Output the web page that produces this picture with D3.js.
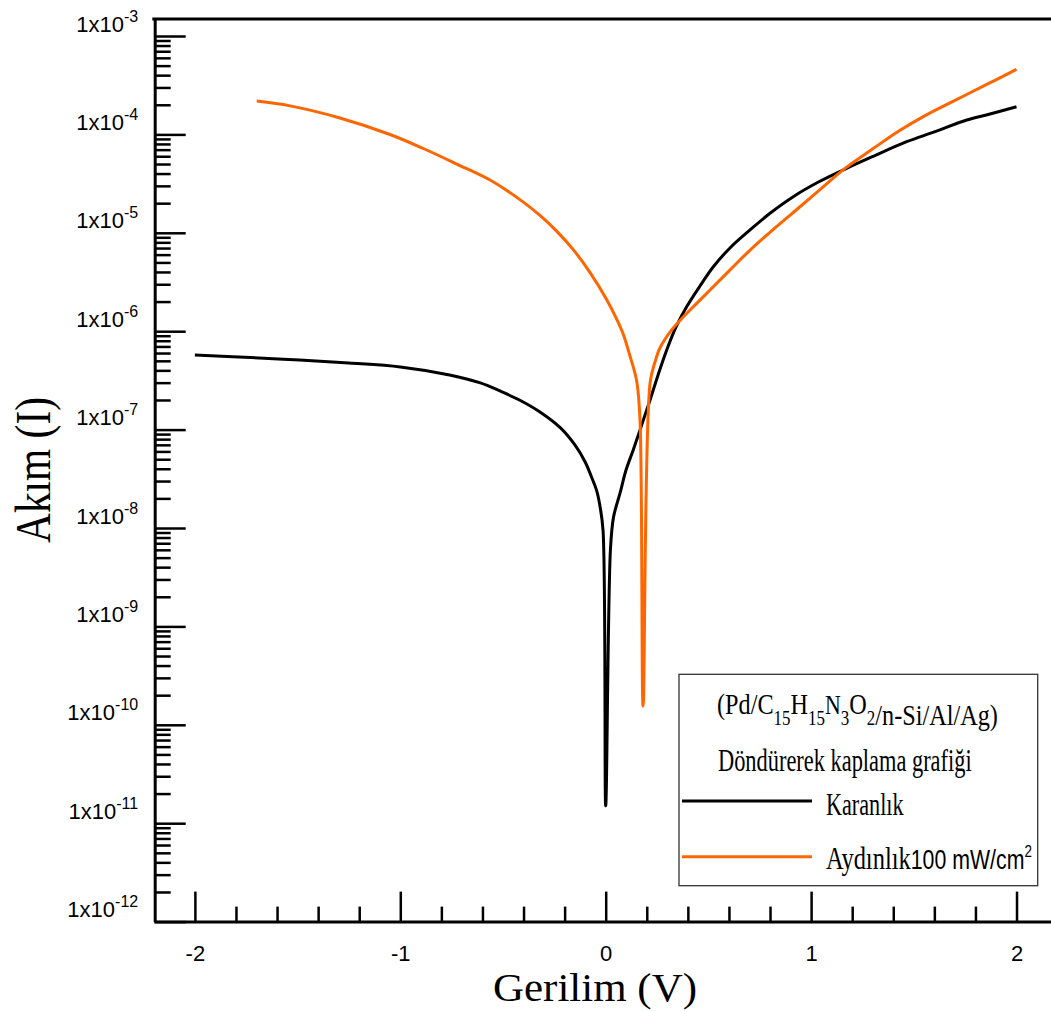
<!DOCTYPE html>
<html>
<head>
<meta charset="utf-8">
<script src="https://cdn.jsdelivr.net/npm/d3@7"></script>
<style>
  body { margin: 0; background: #fff; }
  svg { display: block; }
</style>
</head>
<body>
<svg id="chart" width="1051" height="1012"></svg>
<script>
// I–V data of the Pd/C15H15N3O2/n-Si/Al/Ag diode (spin coated)
// Dark measurement: voltage (V) and current (A)
const voltageDark = [-2.00, -1.73, -1.49, -1.25, -1.00, -0.76, -0.61, -0.515, -0.42, -0.32,
  -0.22, -0.15, -0.10, -0.067, -0.042, -0.028, -0.013, 0.00, 0.023, 0.038, 0.070, 0.099,
  0.134, 0.175, 0.216, 0.255, 0.297, 0.342, 0.394, 0.459, 0.524, 0.605, 0.703, 0.800, 0.913,
  1.038, 1.173, 1.298, 1.465, 1.600, 1.758, 1.871, 2.00];
const currentDark = [5.73e-7, 5.41e-7, 5.09e-7, 4.75e-7, 4.33e-7, 3.59e-7, 2.98e-7, 2.47e-7,
  2.0e-7, 1.51e-7, 1.04e-7, 6.98e-8, 4.69e-8, 3.22e-8, 2.32e-8, 1.67e-8, 9.5e-9, 1.5e-11,
  6.0e-9, 1.29e-8, 2.27e-8, 3.88e-8, 6.21e-8, 1.11e-7, 2.0e-7, 3.59e-7, 6.44e-7, 1.10e-6,
  1.77e-6, 2.88e-6, 4.52e-6, 7.01e-6, 1.07e-5, 1.58e-5, 2.33e-5, 3.30e-5, 4.52e-5, 5.93e-5,
  8.43e-5, 1.06e-4, 1.40e-4, 1.61e-4, 1.91e-4];

// Illuminated measurement (100 mW/cm²)
const voltageLight = [-1.699, -1.537, -1.294, -1.050, -0.888, -0.725, -0.563, -0.401, -0.320,
  -0.239, -0.158, -0.076, 0.005, 0.054, 0.086, 0.118, 0.151, 0.167, 0.182, 0.216, 0.240, 0.264,
  0.321, 0.378, 0.443, 0.508, 0.597, 0.703, 0.824, 0.946, 1.053, 1.165, 1.300, 1.433, 1.555,
  1.676, 1.850, 2.000];
const currentLight = [2.18e-4, 1.95e-4, 1.47e-4, 9.98e-5, 7.19e-5, 5.0e-5, 3.44e-5, 2.05e-5,
  1.50e-5, 1.04e-5, 6.75e-6, 3.94e-6, 2.09e-6, 1.32e-6, 9.27e-7, 5.62e-7, 3.10e-7, 1.25e-7,
  1.55e-10, 2.98e-7, 4.86e-7, 6.75e-7, 1.03e-6, 1.40e-6, 1.92e-6, 2.62e-6, 4.03e-6, 6.68e-6,
  1.12e-5, 1.84e-5, 2.86e-5, 4.51e-5, 7.13e-5, 1.10e-4, 1.55e-4, 2.09e-4, 3.18e-4, 4.57e-4];

// Axis ticks
const xMajorTicks = [-2, -1, 0, 1, 2];
const xMinorTicks = [-1.8, -1.6, -1.4, -1.2, -0.8, -0.6, -0.4, -0.2, 0.2, 0.4, 0.6, 0.8,
  1.2, 1.4, 1.6, 1.8];
const yDecadeExponents = [-12, -11, -10, -9, -8, -7, -6, -5, -4, -3];

// Text
const xTitle = "Gerilim (V)";
const yTitle = "Akım (I)";
const seriesNames = ["Karanlık", "Aydınlık"];
const lightUnit = "100 mW/cm";
const legendSubtitle = "Döndürerek kaplama grafiği";
const seriesColors = ["#000000", "#ff6600"];

const svg = d3.select("#chart");
const serif = "'Liberation Serif', 'Times New Roman', serif";
const sans = "'Liberation Sans', Arial, sans-serif";

// Scales: the log axis runs a little past 1e-3 at the top
const x = d3.scaleLinear().domain([-2.2, 2.2]).range([153.8, 1057.6]);
const y = d3.scaleLog().domain([1e-12, Math.pow(10, -3 + 17 / 98.4)]).range([921.6, 19]);

const yMajor = yDecadeExponents.map(e => Math.pow(10, e));
const yMinor = [];
yDecadeExponents.slice(0, -1).forEach(e => {
  for (let m = 2; m <= 9; m++) yMinor.push(m * Math.pow(10, e));
});

// ---- x axis ----
const gxMinor = svg.append("g").attr("transform", `translate(0,${y(1e-12)})`)
  .call(d3.axisBottom(x).tickValues(xMinorTicks).tickSize(-15).tickSizeOuter(0).tickFormat(""));
gxMinor.select(".domain").attr("stroke-width", 3);
gxMinor.selectAll(".tick line").attr("stroke-width", 2.5);

const gxMajor = svg.append("g").attr("transform", `translate(0,${y(1e-12)})`)
  .call(d3.axisBottom(x).tickValues(xMajorTicks).tickSize(-30).tickSizeOuter(0)
    .tickFormat(d => String(d)));
gxMajor.select(".domain").remove();
gxMajor.selectAll(".tick line").attr("stroke-width", 2.5);
gxMajor.attr("font-family", sans).attr("font-size", 22);
gxMajor.selectAll(".tick text").attr("y", 39).attr("dy", null).attr("fill", "#000");

// ---- y axis ----
const yAxisX = x(-2.2) + 0.9;
const gyMinor = svg.append("g").attr("transform", `translate(${yAxisX},0)`)
  .call(d3.axisLeft(y).tickValues(yMinor).tickSize(-16).tickSizeOuter(0).tickFormat(""));
gyMinor.select(".domain").attr("stroke-width", 3);
gyMinor.selectAll(".tick line").attr("stroke-width", 2.5);

const gyMajor = svg.append("g").attr("transform", `translate(${yAxisX},0)`)
  .call(d3.axisLeft(y).tickValues(yMajor).tickSize(-31).tickSizeOuter(0));
gyMajor.select(".domain").remove();
gyMajor.selectAll(".tick line").attr("stroke-width", 2.5);
gyMajor.attr("font-family", sans).attr("font-size", 22);
gyMajor.selectAll(".tick text").each(function (d) {
  const t = d3.select(this);
  const exp = Math.round(Math.log10(d));
  t.text(null).attr("x", -16.5).attr("y", -5).attr("dy", null)
    .attr("text-anchor", "end").attr("fill", "#000");
  t.append("tspan").text("1x10");
  t.append("tspan").attr("dy", -10).attr("font-size", 16).text(String(exp));
});

// top frame line
svg.append("line")
  .attr("x1", x(-2.2)).attr("x2", x(2.2))
  .attr("y1", y.range()[1]).attr("y2", y.range()[1])
  .attr("stroke", "#000").attr("stroke-width", 3).attr("stroke-linecap", "square");

// ---- curves ----
const line = d3.line()
  .x(d => x(d[0])).y(d => y(d[1]))
  .curve(d3.curveCatmullRom.alpha(0.5));

const darkData = voltageDark.map((v, i) => [v, currentDark[i]]);
const lightData = voltageLight.map((v, i) => [v, currentLight[i]]);

svg.append("path").datum(darkData)
  .attr("d", line).attr("fill", "none")
  .attr("stroke", seriesColors[0]).attr("stroke-width", 3).attr("stroke-linejoin", "round");
svg.append("path").datum(lightData)
  .attr("d", line).attr("fill", "none")
  .attr("stroke", seriesColors[1]).attr("stroke-width", 3).attr("stroke-linejoin", "round");

// ---- fit a text horizontally into a given box ----
function fitText(sel, left, width) {
  const bb = sel.node().getBBox();
  const s = width / bb.width;
  sel.attr("transform", `translate(${left},0) scale(${s},1) translate(${-bb.x},0)`);
}

// ---- axis titles ----
const xt = svg.append("text").attr("x", 0).attr("y", 1001)
  .attr("font-family", serif).attr("font-size", 41).attr("fill", "#000").text(xTitle);
fitText(xt, 493, 204);

const yt = svg.append("text").attr("x", 0).attr("y", 0)
  .attr("font-family", serif).attr("font-size", 50).attr("fill", "#000").text(yTitle);
{
  const bb = yt.node().getBBox();
  const s = 146 / bb.width;
  yt.attr("transform", `translate(50,543) rotate(-90) scale(${s},1) translate(${-bb.x},0)`);
}

// ---- legend ----
const legend = svg.append("g");
legend.append("rect")
  .attr("x", 679).attr("y", 674.3).attr("width", 358.7).attr("height", 211.4)
  .attr("fill", "#fff").attr("stroke", "#333").attr("stroke-width", 1.3);

const title = legend.append("text").attr("x", 0).attr("y", 714)
  .attr("font-family", serif).attr("font-size", 30).attr("fill", "#000");
[["(Pd/C", 0, 30], ["15", 11, 21], ["H", -11, 30], ["15", 11, 21], ["N", -11, 27],
 ["3", 11, 21], ["O", -11, 30], ["2", 11, 21], ["/n-Si/Al/Ag)", 0, 30]]
  .forEach(([s, dy, fs]) => title.append("tspan").attr("dy", dy).attr("font-size", fs).text(s));
fitText(title, 717, 281);

const sub = legend.append("text").attr("x", 0).attr("y", 771)
  .attr("font-family", serif).attr("font-size", 31).attr("fill", "#000").text(legendSubtitle);
fitText(sub, 718, 254);

legend.append("line").attr("x1", 682).attr("x2", 812).attr("y1", 801).attr("y2", 801)
  .attr("stroke", seriesColors[0]).attr("stroke-width", 3);
const k1 = legend.append("text").attr("x", 0).attr("y", 815)
  .attr("font-family", serif).attr("font-size", 31).attr("fill", "#000").text(seriesNames[0]);
fitText(k1, 826, 78);

legend.append("line").attr("x1", 682).attr("x2", 812).attr("y1", 856.7).attr("y2", 856.7)
  .attr("stroke", seriesColors[1]).attr("stroke-width", 3);
const k2 = legend.append("text").attr("x", 0).attr("y", 869)
  .attr("font-family", serif).attr("font-size", 31).attr("fill", "#000");
k2.append("tspan").text(seriesNames[1]);
k2.append("tspan").attr("font-family", sans).attr("font-size", 27).text(lightUnit);
k2.append("tspan").attr("font-family", sans).attr("font-size", 17).attr("dy", -12).text("2");
fitText(k2, 826, 206);
</script>
</body>
</html>
